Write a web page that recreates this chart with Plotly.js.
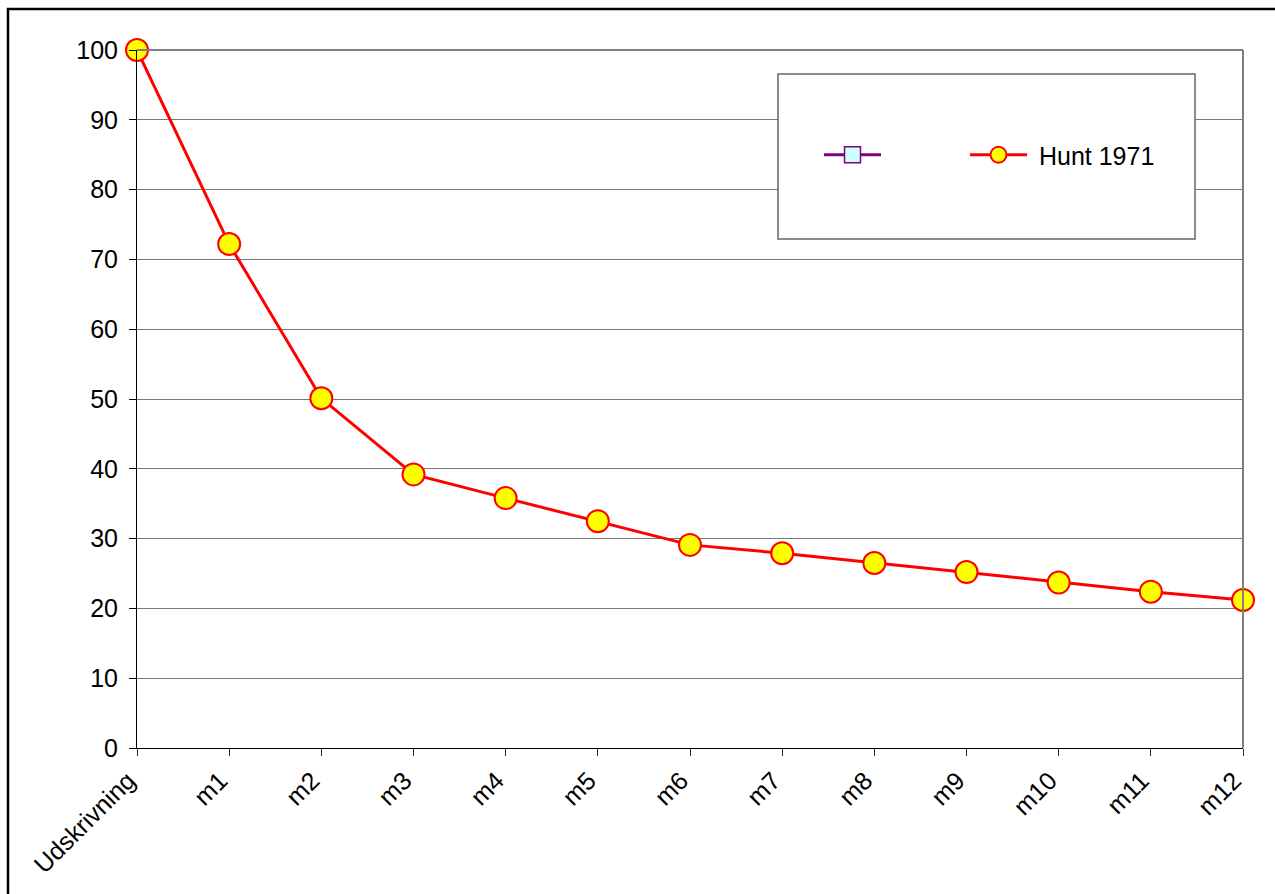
<!DOCTYPE html>
<html>
<head>
<meta charset="utf-8">
<script src="https://cdn.plot.ly/plotly-3.0.1.min.js"></script>
<style>
  html, body { margin: 0; padding: 0; background: #fff; }
  #chart { width: 1275px; height: 894px; }
</style>
</head>
<body>
<div id="chart"></div>
<script>
// Follow-up points: discharge, then month 1 .. month 12
const categories = ['Udskrivning', 'm1', 'm2', 'm3', 'm4', 'm5', 'm6',
                    'm7', 'm8', 'm9', 'm10', 'm11', 'm12'];
const hunt1971 = [100, 72.2, 50.1, 39.2, 35.8, 32.5, 29.1, 27.9, 26.5, 25.2, 23.7, 22.4, 21.2];
const yTicks = [0, 10, 20, 30, 40, 50, 60, 70, 80, 90, 100];
const seriesNames = ['', 'Hunt 1971'];

const FONT = 'Arial, "Liberation Sans", sans-serif';
const FS = 25;

// Plot area in pixels (used to place the frame and legend box)
const W = 1275, H = 894;
const L = 137, R = 1243, T = 50, B = 748;
const px = v => (v - L) / (R - L);
const py = v => (B - v) / (B - T);

const traces = [
  {
    // unnamed series: only appears in the legend
    x: [null], y: [null],
    type: 'scatter', mode: 'lines+markers',
    name: seriesNames[0],
    line: { color: '#800080', width: 3 },
    marker: { symbol: 'square', size: 17, color: '#CCFFFF',
              line: { color: '#800080', width: 1.5 } },
    legend: 'legend',
    hoverinfo: 'skip'
  },
  {
    x: categories, y: hunt1971,
    type: 'scatter', mode: 'lines+markers',
    name: '\u00a0' + seriesNames[1],
    line: { color: '#FF0000', width: 3 },
    marker: { symbol: 'circle', size: 22, color: '#FFFF00',
              line: { color: '#FF0000', width: 2 } },
    cliponaxis: false,
    legend: 'legend2'
  }
];

const layout = {
  width: W, height: H,
  margin: { l: L, r: W - R, t: T, b: H - B, pad: 0 },
  paper_bgcolor: '#ffffff',
  plot_bgcolor: '#ffffff',
  font: { family: FONT, size: FS, color: '#000' },
  showlegend: true,
  xaxis: {
    type: 'category',
    categoryorder: 'array', categoryarray: categories,
    range: [0, categories.length - 1],
    showgrid: false, zeroline: false,
    showline: true, linecolor: '#000', linewidth: 1,
    ticks: 'outside', ticklen: 7, tickcolor: '#333', tickwidth: 1,
    tickangle: -45,
    ticklabelstandoff: 0,
    ticklabelshift: -9,
    tickfont: { family: FONT, size: FS, color: '#000' },
    fixedrange: true
  },
  yaxis: {
    range: [0, 100],
    tickvals: yTicks,
    ticktext: yTicks.map(String),
    showgrid: true, gridcolor: '#777', gridwidth: 1,
    zeroline: false,
    showline: true, linecolor: '#000', linewidth: 1,
    ticks: 'outside', ticklen: 7, tickcolor: '#000', tickwidth: 1,
    ticklabelstandoff: 6,
    tickfont: { family: FONT, size: FS, color: '#000' },
    fixedrange: true
  },
  shapes: [
    // right and top edges of the plot area
    { type: 'line', xref: 'paper', yref: 'paper', x0: 1, x1: 1, y0: 0, y1: 1,
      line: { color: '#808080', width: 2 } },
    { type: 'line', xref: 'paper', yref: 'paper', x0: 0, x1: 1, y0: 1, y1: 1,
      line: { color: '#808080', width: 2 } },
    // legend box
    { type: 'rect', xref: 'paper', yref: 'paper', layer: 'above',
      x0: px(778), x1: px(1195), y0: py(239), y1: py(74),
      fillcolor: '#ffffff', line: { color: '#666', width: 1.5 } },
    // outer chart frame (runs past the right and bottom edges)
    { type: 'rect', xref: 'paper', yref: 'paper', layer: 'above',
      x0: px(8), x1: px(1290), y0: py(910), y1: py(9),
      fillcolor: 'rgba(0,0,0,0)', line: { color: '#000', width: 2.5 } }
  ],
  legend: {
    x: px(819), y: py(155), xanchor: 'left', yanchor: 'middle',
    bgcolor: 'rgba(0,0,0,0)', borderwidth: 0,
    itemwidth: 57,
    font: { family: FONT, size: FS, color: '#000' }
  },
  legend2: {
    x: px(965), y: py(155), xanchor: 'left', yanchor: 'middle',
    bgcolor: 'rgba(0,0,0,0)', borderwidth: 0,
    itemwidth: 57,
    font: { family: FONT, size: FS, color: '#000' }
  }
};

Plotly.newPlot('chart', traces, layout, { displayModeBar: false, staticPlot: true });
</script>
</body>
</html>
